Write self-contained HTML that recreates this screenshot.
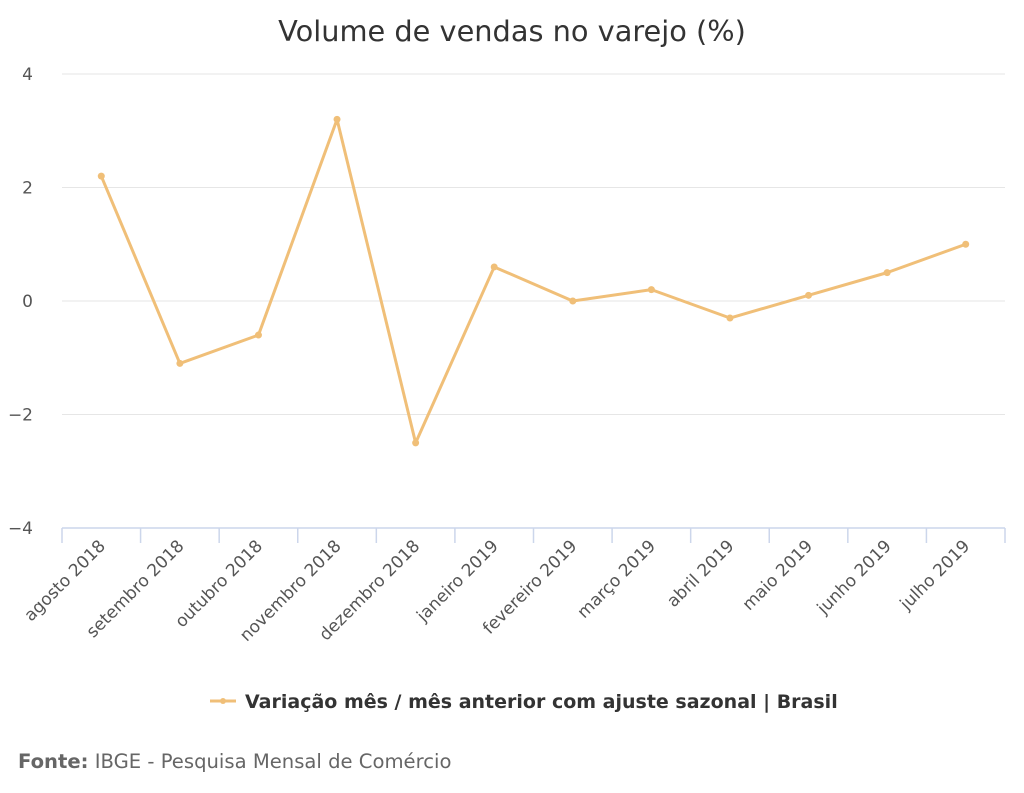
<!DOCTYPE html>
<html><head><meta charset="utf-8"><style>
html,body{margin:0;padding:0;background:#fff;}
svg{display:block;font-family:"DejaVu Sans","Liberation Sans",sans-serif;}
</style></head><body>
<svg id="chart" width="1024" height="793" viewBox="0 0 1024 793">
<text x="512" y="41" text-anchor="middle" font-size="28.8" fill="#333">Volume de vendas no varejo (%)</text>
<g id="grid"></g><g id="xaxis"></g><g id="series"></g>
<g>
<line x1="210" y1="701" x2="236" y2="701" stroke="#f0bf78" stroke-width="3"/>
<circle cx="223" cy="701" r="3" fill="#f0bf78"/>
<text x="245" y="708" font-size="19" font-weight="bold" fill="#333">Variação mês / mês anterior com ajuste sazonal | Brasil</text>
</g>
<text x="18" y="768" font-size="19.6" fill="#666"><tspan font-weight="bold">Fonte:</tspan> IBGE - Pesquisa Mensal de Comércio</text>
</svg>
<script>
const categories=["agosto 2018","setembro 2018","outubro 2018","novembro 2018","dezembro 2018","janeiro 2019","fevereiro 2019","março 2019","abril 2019","maio 2019","junho 2019","julho 2019"];
const values=[2.2,-1.1,-0.6,3.2,-2.5,0.6,0.0,0.2,-0.3,0.1,0.5,1.0];
const yTicks=[-4,-2,0,2,4];
const NS="http://www.w3.org/2000/svg";
const L=62,R=1005,T=74,B=528,yMin=-4,yMax=4;
const bw=(R-L)/categories.length;
const xs=i=>L+bw*(i+0.5);
const ys=v=>B-(v-yMin)/(yMax-yMin)*(B-T);
function mk(t,a,p){const e=document.createElementNS(NS,t);for(const k in a)e.setAttribute(k,a[k]);p.appendChild(e);return e;}
const grid=document.getElementById('grid'),xa=document.getElementById('xaxis'),se=document.getElementById('series');
yTicks.forEach(v=>{
 if(v!==yMin){const g=mk('line',{x1:L,x2:R,y1:ys(v),y2:ys(v),stroke:'#e6e6e6','stroke-width':1},grid);
 
 }
 const t=mk('text',{x:33,y:ys(v)+6,'text-anchor':'end','font-size':17,fill:'#555'},grid);
 t.textContent=v<0?'−'+Math.abs(v):String(v);
 
 
});
const ax=mk('line',{x1:L,x2:R,y1:B,y2:B,stroke:'#ccd6eb','stroke-width':1.5},xa);


for(let i=0;i<=categories.length;i++){const x=L+bw*i;
 const tk=mk('line',{x1:x,x2:x,y1:B,y2:B+15,stroke:'#ccd6eb','stroke-width':1.5},xa);
 
 }
categories.forEach((c,i)=>{const x=xs(i)+5,y=B+19;
 const t=mk('text',{x:x,y:y,'text-anchor':'end','font-size':17,fill:'#555',transform:`rotate(-45 ${x} ${y})`},xa);
 t.textContent=c;
 
 });
const pl=mk('polyline',{points:values.map((v,i)=>xs(i)+','+ys(v)).join(' '),fill:'none',stroke:'#f0bf78','stroke-width':3,'stroke-linejoin':'round'},se);


values.forEach((v,i)=>{const c=mk('circle',{cx:xs(i),cy:ys(v),r:3.5,fill:'#f0bf78'},se);
 
 });
</script>
</body></html>
